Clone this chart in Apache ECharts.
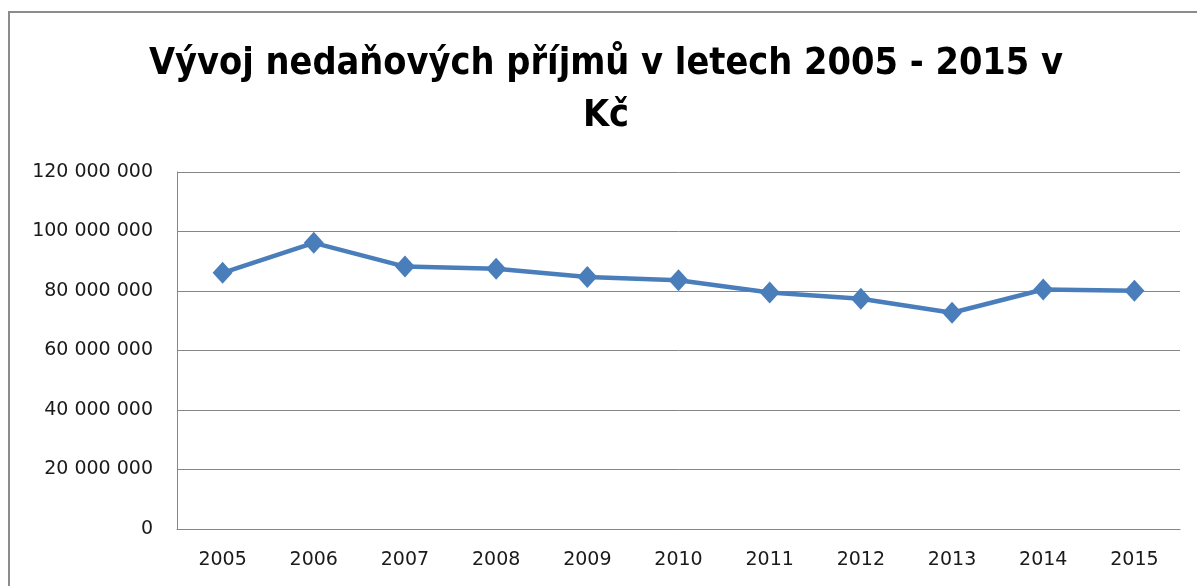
<!DOCTYPE html>
<html><head><meta charset="utf-8">
<script src="https://cdn.jsdelivr.net/npm/echarts@6/dist/echarts.min.js"></script>
<style>html,body{margin:0;padding:0;background:#fff}#c{width:1197px;height:586px}</style>
</head><body><div id="c"></div>
<script>
const titleText = "Vývoj nedaňových příjmů v letech 2005 - 2015 v\nKč";
const years = ["2005","2006","2007","2008","2009","2010","2011","2012","2013","2014","2015"];
const values = [86100000, 96200000, 88200000, 87500000, 84700000, 83600000, 79500000, 77400000, 72700000, 80500000, 80100000];
const yMin = 0, yMax = 120000000, yStep = 20000000;

function fmt(v){ return String(v).replace(/\B(?=(\d{3})+(?!\d))/g, ' '); }

const chart = echarts.init(document.getElementById('c'), null, {renderer:'canvas'});
chart.setOption({
  animation:false,
  backgroundColor:'#fff',
  graphic:[{type:'rect', shape:{x:9,y:12,width:1400,height:800}, style:{fill:'none', stroke:'#8c8c8c', lineWidth:2}, silent:true}],
  title:{
    text:titleText, left:601, top:33, textAlign:'center',
    textStyle:{fontFamily:"'Liberation Sans Narrow','DejaVu Sans Condensed',sans-serif", fontWeight:'bold', fontSize:37.5, lineHeight:52, color:'#000'}
  },
  grid:{left:177, right:17, top:172, bottom:57, containLabel:false},
  xAxis:{
    type:'category', data:years, boundaryGap:true,
    axisLine:{show:true, lineStyle:{color:'#868686', width:1}},
    axisTick:{show:false},
    axisLabel:{fontFamily:'DejaVu Sans', fontSize:19, color:'#1a1a1a', margin:22},
    splitLine:{show:false}
  },
  yAxis:{
    type:'value', min:yMin, max:yMax, interval:yStep,
    axisLine:{show:true, lineStyle:{color:'#868686', width:1}},
    axisTick:{show:false},
    axisLabel:{fontFamily:'DejaVu Sans', fontSize:19, color:'#1a1a1a', margin:24, formatter:fmt},
    splitLine:{show:true, lineStyle:{color:'#868686', width:1}}
  },
  series:[{
    type:'line', data:values,
    lineStyle:{color:'#4a7ebb', width:4.5},
    itemStyle:{color:'#4a7ebb'},
    symbol:'diamond', symbolSize:[20,22], showAllSymbol:true
  }]
});
</script></body></html>
